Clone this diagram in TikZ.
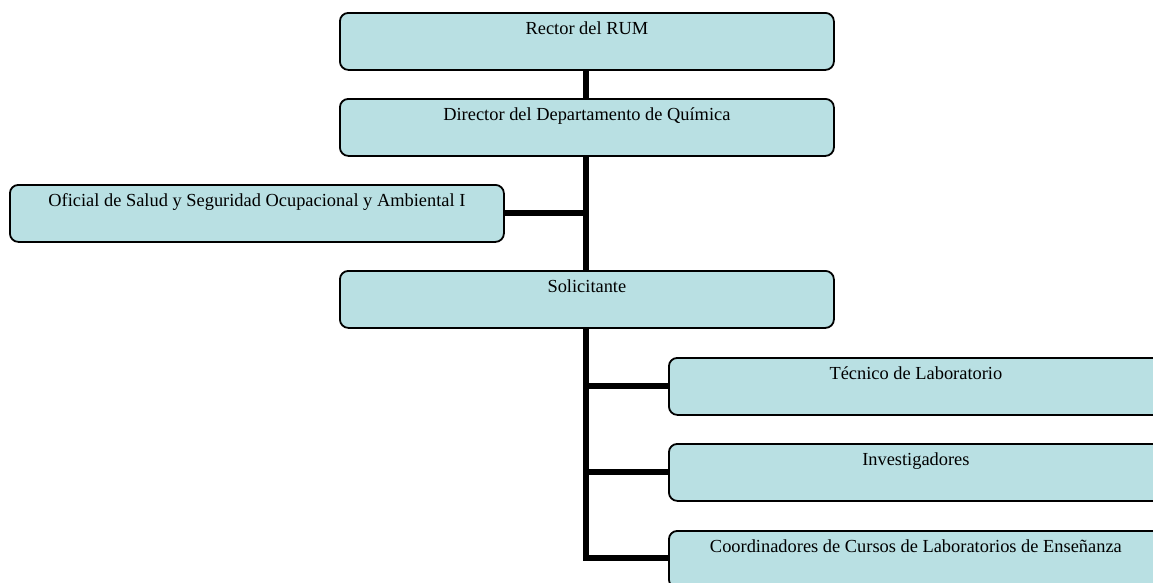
\documentclass[tikz,border=0pt]{standalone}
\usepackage{fontspec}
\setmainfont{Liberation Serif}
\definecolor{boxfill}{RGB}{185,224,227}
\tikzset{
  box/.style={draw=black, line width=1.8, rounded corners=8.5, fill=boxfill,
    minimum width=494, minimum height=57, inner sep=0, anchor=north west},
  boxtext/.style={anchor=base, inner sep=0, font=\fontsize{18.4}{22}\selectfont},
  link/.style={line width=5.8}
}
\begin{document}
\begin{tikzpicture}[x=1pt,y=-1pt]
\useasboundingbox (0,0) rectangle (1153,582);
\clip (0,0) rectangle (1153,582);
% connectors first, boxes on top
\coordinate (top) at (586,69);
\coordinate (mid) at (586,270);
\coordinate (low) at (586,327);
\draw[link] (top) -- (mid);
\draw[link] (503,213) coordinate (ofic) -- (586,213);
\draw[link] (low) |- (668,386) coordinate (tec);
\draw[link] (low) |- (668,472) coordinate (inv);
\draw[link] (low) |- (668,558) coordinate (coord);
% boxes
\node (rector) [box] at (339,12) {};
\node (director) [box] at (339,98) {};
\node (oficial) [box] at (9,184) {};
\node (solic) [box] at (339,270) {};
\node (tecnico) [box] at (668,357) {};
\node (investig) [box] at (668,443) {};
\node (coordin) [box] at (668,530) {};
% texts
\node (rectorT) [boxtext] at ([yshift=-22pt]rector.north) {Rector del RUM};
\node (directorT) [boxtext] at ([yshift=-22pt]director.north) {Director del Departamento de Química};
\node (oficialT) [boxtext] at ([yshift=-22pt]oficial.north) {Oficial de Salud y Seguridad Ocupacional y Ambiental I};
\node (solicT) [boxtext] at ([yshift=-22pt]solic.north) {Solicitante};
\node (tecnicoT) [boxtext] at ([yshift=-22pt]tecnico.north) {Técnico de Laboratorio};
\node (investigT) [boxtext] at ([yshift=-22pt]investig.north) {Investigadores};
\node (coordinT) [boxtext] at ([yshift=-22pt]coordin.north) {Coordinadores de Cursos de Laboratorios de Enseñanza};
\end{tikzpicture}
\end{document}
